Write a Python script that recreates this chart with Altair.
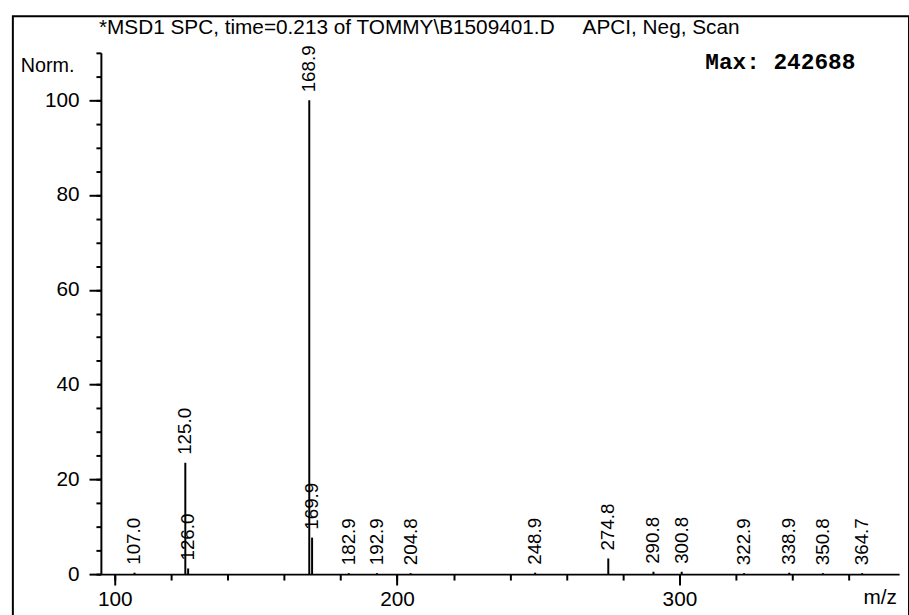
import altair as alt
import pandas as pd

# Peak data
mz = [107.0, 125.0, 126.0, 168.9, 169.9, 182.9, 192.9, 204.8, 248.9, 274.8,
      290.8, 300.8, 322.9, 338.9, 350.8, 364.7]
intensity = [0.3, 23.5, 1.2, 100.0, 7.7, 0.2, 0.2, 0.2, 0.3, 3.3,
             0.5, 0.5, 0.2, 0.3, 0.2, 0.2]
labels = ["107.0", "125.0", "126.0", "168.9", "169.9", "182.9", "192.9", "204.8",
          "248.9", "274.8", "290.8", "300.8", "322.9", "338.9", "350.8", "364.7"]

x_major = [100, 200, 300]
x_minor = list(range(100, 380, 20))
y_major = [0, 20, 40, 60, 80, 100]
y_minor = list(range(0, 115, 5))

title_left = "*MSD1 SPC, time=0.213 of TOMMY\\B1509401.D"
title_right = "APCI, Neg, Scan"
max_text = "Max: 242688"

df = pd.DataFrame({"mz": mz, "intensity": intensity, "label": labels})

# The view rectangle is the outer frame (its left and top edges are visible);
# the data scales occupy an inner region of it.
VW, VH = 906, 612
FONT = "Liberation Sans"
xdom = [95.1, 377.8]
ydom = [0, 110]
XOFF, YBOT = 89, 48  # inner plot offsets inside the frame

xs = alt.Scale(domain=xdom, nice=False, zero=False, range=[XOFF, 896])
ys = alt.Scale(domain=ydom, nice=False, range=[VH - YBOT, 37])

peaks = alt.Chart(df).mark_rule(color="black", strokeWidth=2).encode(
    x=alt.X("mz:Q", scale=xs, title=None,
            axis=alt.Axis(values=x_major, tickSize=11, tickWidth=2, tickColor="black",
                          domainColor="black", domainWidth=2, labelFontSize=21,
                          labelFont=FONT, labelColor="black", labelPadding=4,
                          grid=False, orient="bottom", format="d", offset=-YBOT)),
    y=alt.Y("intensity:Q", scale=ys, title=None,
            axis=alt.Axis(values=y_major, tickSize=12, tickWidth=2, tickColor="black",
                          domainColor="black", domainWidth=2, labelFontSize=21,
                          labelFont=FONT, labelColor="black", labelPadding=10,
                          grid=False, orient="left", format="d", offset=-XOFF)),
    y2=alt.datum(0),
)

peak_labels = alt.Chart(df).mark_text(
    angle=270, align="left", baseline="middle", dx=8, fontSize=19,
    font=FONT, color="black"
).encode(
    x=alt.X("mz:Q", scale=xs, title=None,
            axis=alt.Axis(values=x_minor, tickSize=6, tickWidth=2, tickColor="black",
                          domain=False, labels=False, grid=False, orient="bottom",
                          offset=-YBOT)),
    y=alt.Y("intensity:Q", scale=ys, title=None,
            axis=alt.Axis(values=y_minor, tickSize=5, tickWidth=2, tickColor="black",
                          domain=False, labels=False, grid=False, orient="left",
                          offset=-XOFF)),
    text="label:N",
)

one = alt.Data(values=[{"k": 1}])


def label(txt, x, y, size, font=FONT, weight="normal"):
    return alt.Chart(one).mark_text(align="left", baseline="middle", fontSize=size,
                                    font=font, fontWeight=weight, color="black").encode(
        x=alt.value(x), y=alt.value(y), text=alt.value(txt))


title1 = label(title_left, 87, 12, 21)
title2 = label(title_right, 576, 12, 21)
norm = label("Norm.", 8, 50, 20)
maxlab = label(max_text, 700, 46, 23, font="Liberation Mono", weight="bold")
mzlab = label("m/z", 860, 588, 21)

chart = alt.layer(
    peak_labels, peaks, title1, title2, norm, maxlab, mzlab
).resolve_axis(x="independent", y="independent").properties(
    width=VW, height=VH,
    autosize=alt.AutoSizeParams(type="none"),
    padding={"left": 13, "top": 13, "right": 0, "bottom": 0},
    background="white",
).configure_view(stroke="black", strokeWidth=2, fill="white")

chart.save("out.html", embed_options={"renderer": "svg", "actions": False})
